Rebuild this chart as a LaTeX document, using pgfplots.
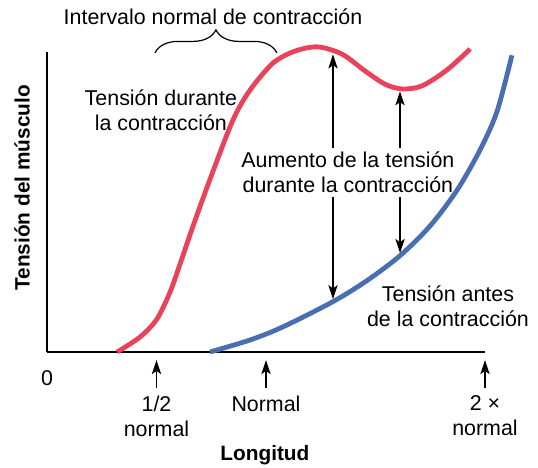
\documentclass[border=0pt]{standalone}
\usepackage{pgfplots}
\pgfplotsset{compat=1.18}
\usepackage{fontspec}
\setmainfont{Liberation Sans}
\usetikzlibrary{arrows.meta,decorations.pathreplacing}
\definecolor{cred}{RGB}{232,67,90}
\definecolor{cblue}{RGB}{74,111,176}
\newcommand{\tf}{\fontsize{10.7}{12.5}\selectfont}
\tikzset{myarr/.style={line width=0.85pt,-{Stealth[length=7pt,width=4.6pt,inset=1.6pt]}}}
\begin{document}
\begin{tikzpicture}
\useasboundingbox (0,0) rectangle (269pt,234pt);
\begin{axis}[
  scale only axis, width=219pt, height=150pt,
  at={(23.5pt,58pt)}, anchor=south west,
  xmin=0, xmax=2, ymin=0, ymax=100,
  axis lines=left, axis line style={line width=1pt,-},
  xtick=\empty, ytick=\empty, clip=false,
]
\addplot[cred, line width=2.4pt, smooth, tension=0.5] coordinates {
 (0.320,0) (0.425,5) (0.502,11) (0.562,20) (0.607,29.2) (0.667,42.0)
 (0.744,57.5) (0.849,77.3) (0.927,87.3) (1.032,96.3) (1.132,100.3)
 (1.237,101.7) (1.347,99.3) (1.452,93.7) (1.543,89.3) (1.621,87.7)
 (1.712,88.7) (1.826,94) (1.932,101)
};
\addplot[cblue, line width=2.4pt, smooth, tension=0.5] coordinates {
 (0.744,0) (0.927,4.0) (1.078,8.4) (1.306,16.8) (1.461,23.8) (1.612,32.1)
 (1.749,42.0) (1.872,53.9) (1.977,67.3) (2.055,80.2) (2.123,98.9)
};
% vertical arrows
\draw[myarr] (axis cs:1.306,68) -- (axis cs:1.306,99.2);
\draw[myarr] (axis cs:1.306,51.7) -- (axis cs:1.306,17.6);
\draw[myarr] (axis cs:1.612,68) -- (axis cs:1.612,86.9);
\draw[myarr] (axis cs:1.612,51.7) -- (axis cs:1.612,33);
% texts
\node[align=center, font=\tf] at (axis cs:1.374,60) {Aumento de la tensión\\durante la contracción};
\node[align=center, font=\tf] at (axis cs:0.52,80.7) {Tensión durante\\la contracción};
\node[align=center, font=\tf] at (axis cs:1.831,15.3) {Tensión antes\\de la contracción};
\node[font=\tf] at (axis cs:0.758,111.7) {Intervalo normal de contracción};
\draw[line width=0.6pt, decorate, decoration={brace, amplitude=11.5pt}] (axis cs:0.493,99.7) -- (axis cs:1.050,99.7);
% x annotations
\node[font=\tf] at (axis cs:0,-8.7) {0};
\draw[myarr] (axis cs:0.5,-12) -- (axis cs:0.5,-2.7);
\draw[myarr] (axis cs:1,-12) -- (axis cs:1,-2.7);
\draw[myarr] (axis cs:2,-12) -- (axis cs:2,-2.7);
\node[align=center, anchor=north, font=\tf] at (axis cs:0.5,-12.3) {1/2\\normal};
\node[align=center, anchor=north, font=\tf] at (axis cs:1,-12.3) {Normal};
\node[align=center, anchor=north, font=\tf] at (axis cs:2,-12.3) {2 ×\\normal};
\node[font=\fontsize{10.4}{12}\selectfont\bfseries] at (axis cs:0.995,-34.3) {Longitud};
\node[font=\fontsize{10.4}{12}\selectfont\bfseries, rotate=90] at (axis cs:-0.114,54.7) {Tensión del músculo};
\end{axis}
\end{tikzpicture}
\end{document}
